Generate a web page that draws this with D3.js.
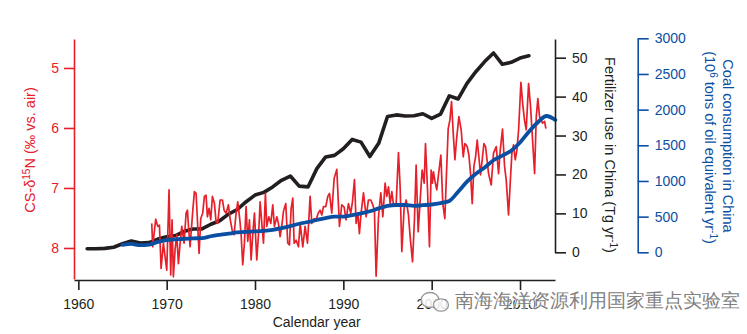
<!DOCTYPE html>
<html><head><meta charset="utf-8">
<script src="https://cdn.jsdelivr.net/npm/d3@7"></script>
<style>
body{margin:0;background:#fff}
svg{display:block}
text{font-family:"Liberation Sans",Arial,Helvetica,sans-serif}
</style>
</head><body>
<svg id="c" width="747" height="334"></svg>
<script>
// ---------- DATA ----------
const yearTicks = [1960, 1970, 1980, 1990, 2000, 2010];
const isoTicks = [5, 6, 7, 8];
const fertTicks = [0, 10, 20, 30, 40, 50];
const coalTicks = [0, 500, 1000, 1500, 2000, 2500, 3000];

// Coral skeleton δ15N: [year, value ‰]
const isotopeData = [
[1968.31,7.59],[1968.42,7.98],[1968.76,7.52],[1968.99,7.64],[1969.18,7.62],[1969.37,8.34],[1969.63,7.92],
[1970.01,8.37],[1970.27,7.03],[1970.46,8.45],[1970.61,7.53],[1970.76,8.48],[1970.95,8.03],[1971.14,7.78],
[1971.33,8.26],[1971.52,7.92],[1971.71,7.64],[1971.97,7.92],[1972.2,7.42],[1972.35,7.37],[1972.5,7.7],
[1972.65,7.98],[1972.95,7.39],[1973.14,7.06],[1973.33,7.09],[1973.48,7.53],[1973.67,8.09],[1973.86,7.51],
[1974.08,7.42],[1974.27,7.14],[1974.46,7.12],[1974.61,7.48],[1974.8,7.34],[1974.99,7.53],[1975.18,7.14],
[1975.41,7.26],[1975.59,7.56],[1975.78,7.59],[1976.05,7.2],[1976.31,7.2],[1976.5,7.37],[1976.73,7.42],
[1976.99,7.28],[1977.18,7.51],[1977.41,7.7],[1977.63,7.78],[1977.86,7.42],[1978.05,7.23],[1978.28,7.53],
[1978.43,7.78],[1978.61,8.28],[1978.8,7.92],[1978.99,7.31],[1979.18,7.89],[1979.37,7.53],[1979.56,8.2],
[1979.75,7.76],[1979.94,7.42],[1980.2,8.2],[1980.43,7.7],[1980.58,7.23],[1980.77,7.59],[1980.96,7.92],
[1981.18,7.09],[1981.33,7.64],[1981.56,7.48],[1981.79,7.59],[1982.01,7.28],[1982.2,7.64],[1982.47,7.48],
[1982.65,7.59],[1982.84,7.81],[1983.03,7.64],[1983.22,7.39],[1983.48,7.26],[1983.71,7.92],[1983.9,7.95],
[1984.09,7.34],[1984.28,7.17],[1984.43,7.92],[1984.66,7.87],[1984.92,7.98],[1985.11,7.59],[1985.41,7.98],
[1985.67,7.64],[1985.94,7.92],[1986.24,7.14],[1986.43,7.59],[1986.69,7.51],[1986.92,7.53],[1987.15,7.42],
[1987.37,7.37],[1987.56,7.45],[1987.75,7.31],[1988.01,7.31],[1988.24,7.14],[1988.43,7.09],[1988.69,7.42],
[1988.96,6.84],[1989.26,6.69],[1989.56,7.64],[1989.82,7.28],[1990.09,7.32],[1990.31,7.53],[1990.58,7.26],
[1990.84,7.42],[1991.03,7.23],[1991.26,6.86],[1991.45,7.59],[1991.64,7.42],[1991.82,7.76],[1992.01,7.42],
[1992.28,7.08],[1992.58,7.48],[1992.84,7.2],[1993.11,7.2],[1993.33,7.28],[1993.52,7.37],[1993.71,8.47],
[1993.98,7.48],[1994.24,7.08],[1994.47,7.48],[1994.73,6.92],[1994.92,7.14],[1995.11,6.98],[1995.3,7.26],
[1995.49,7.06],[1995.68,7.28],[1995.98,7.26],[1996.24,6.41],[1996.43,6.98],[1996.62,8.06],[1996.88,7.34],
[1997.11,7.2],[1997.37,7.45],[1997.56,7.81],[1997.83,8.23],[1998.05,7.53],[1998.24,6.62],[1998.47,7.73],
[1998.7,7.2],[1998.92,6.7],[1999.15,6.92],[1999.3,6.26],[1999.53,7.03],[1999.75,7.98],[1999.94,6.7],
[2000.09,6.92],[2000.2,6.73],[2000.39,6.9],[2000.58,7.03],[2000.77,6.78],[2001.04,6.45],[2001.26,7.26],
[2001.49,7.51],[2001.64,6.9],[2001.87,6.01],[2002.06,5.87],[2002.25,5.56],[2002.44,6.09],[2002.63,6.53],
[2002.81,6.2],[2003.08,5.81],[2003.34,6.03],[2003.57,6.48],[2003.76,6.26],[2004.02,6.31],[2004.21,6.45],
[2004.4,6.76],[2004.59,7.26],[2004.78,6.64],[2004.97,6.48],[2005.15,6.2],[2005.34,6.48],[2005.53,6.78],
[2005.72,6.53],[2005.91,6.26],[2006.1,6.31],[2006.44,6.76],[2006.74,6.95],[2007.0,6.42],[2007.31,6.31],
[2007.57,6.76],[2007.76,6.37],[2008.02,6.02],[2008.25,6.64],[2008.44,6.87],[2008.7,7.45],[2008.89,6.92],
[2009.08,6.42],[2009.27,6.28],[2009.46,6.53],[2009.65,6.37],[2009.84,6.03],[2010.1,5.24],[2010.33,5.64],
[2010.51,5.87],[2010.7,6.03],[2010.97,5.26],[2011.19,5.64],[2011.42,6.2],[2011.65,6.76],[2011.84,5.81],
[2012.02,5.51],[2012.21,5.81],[2012.4,5.87],[2012.55,5.92],[2012.78,5.89],[2012.93,6.01]
];

// Fertilizer use in China (Tg/yr)
const fertYears = [1961,1962,1963,1964,1965,1966,1967,1968,1969,1970,1971,1972,1973,1974,1975,1976,1977,1978,1979,1980,
1981,1982,1983,1984,1985,1986,1987,1988,1989,1990,1991,1992,1993,1994,1995,1996,1997,1998,1999,2000,
2001,2002,2003,2004,2005,2006,2007,2008,2009,2010,2011];
const fertValues = [0.9,0.9,1.0,1.3,2.2,2.9,2.4,2.5,3.4,4.0,4.3,5.4,6.0,6.0,7.2,8.1,9.8,11.0,13.0,14.7,
15.4,16.8,18.5,19.6,17.0,16.8,21.5,24.5,24.9,26.6,29.0,28.3,24.6,28.0,34.9,35.3,35.0,35.1,35.6,34.4,
35.5,40.2,39.4,43.4,46.4,49.0,51.2,48.3,48.8,49.9,50.5];

// Coal consumption in China (10^6 tons oil equivalent / yr)
const coalYears = [1965,1966,1967,1968,1969,1970,1971,1972,1973,1974,1975,1976,1977,1978,1979,1980,1981,1982,1983,1984,
1985,1986,1987,1988,1989,1990,1991,1992,1993,1994,1995,1996,1997,1998,1999,2000,2001,2002,2003,2004,
2005,2006,2007,2008,2009,2010,2011,2012,2013,2014];
const coalValues = [105,118,100,108,145,170,180,190,196,198,225,245,262,278,287,292,300,315,340,368,
400,425,453,480,499,500,520,545,575,615,650,663,663,650,660,670,690,720,850,990,
1100,1190,1290,1355,1425,1540,1690,1820,1911,1855];

const waterText = "南海海洋资源利用国家重点实验室";

// ---------- COLOURS ----------
const RED = "#e6202a", BLUE = "#0b4fa2", BLACK = "#231f20";

// ---------- SCALES ----------
const svg = d3.select("#c");
const x = d3.scaleLinear().domain([1959.51, 2013.96]).range([74, 555]);
const yIso = d3.scaleLinear().domain([4.517, 8.517]).range([39, 279]);
const yFert = d3.scaleLinear().domain([0, 54.8]).range([252.3, 39]);
const yCoal = d3.scaleLinear().domain([0, 3000]).range([252.3, 38.3]);

const fertData = fertYears.map((y, i) => [y, fertValues[i]]);
const coalData = coalYears.map((y, i) => [y, coalValues[i]]);

// ---------- LINES ----------
svg.append("path").datum(fertData)
  .attr("d", d3.line().x(d => x(d[0])).y(d => yFert(d[1])))
  .attr("fill", "none").attr("stroke", BLACK).attr("stroke-width", 3.6)
  .attr("stroke-linejoin", "round").attr("stroke-linecap", "round");

svg.append("path").datum(isotopeData)
  .attr("d", d3.line().x(d => x(d[0])).y(d => yIso(d[1])))
  .attr("fill", "none").attr("stroke", RED).attr("stroke-width", 1.7)
  .attr("stroke-linejoin", "round");

svg.append("path").datum(coalData)
  .attr("d", d3.line().curve(d3.curveMonotoneX).x(d => x(d[0])).y(d => yCoal(d[1])))
  .attr("fill", "none").attr("stroke", BLUE).attr("stroke-width", 3.8)
  .attr("stroke-linejoin", "round").attr("stroke-linecap", "round");

// ---------- AXES ----------
function styleAxis(g, color) {
  g.select(".domain").attr("stroke", color).attr("stroke-width", 1.6);
  g.selectAll(".tick line").attr("stroke", color).attr("stroke-width", 1.6);
  g.selectAll(".tick text").attr("fill", color).attr("font-size", 14)
    .attr("font-family", '"Liberation Sans", Arial, sans-serif');
}

const gx = svg.append("g").attr("transform", "translate(0,280)")
  .call(d3.axisBottom(x).tickValues(yearTicks).tickFormat(d3.format("d"))
    .tickSize(10).tickSizeOuter(0).tickPadding(9));
styleAxis(gx, BLACK);

const gl = svg.append("g").attr("transform", "translate(74,0)")
  .call(d3.axisLeft(yIso).tickValues(isoTicks).tickFormat(d3.format("d"))
    .tickSize(10).tickSizeOuter(0).tickPadding(5));
styleAxis(gl, RED);

const gf = svg.append("g").attr("transform", "translate(555,0)")
  .call(d3.axisRight(yFert).tickValues(fertTicks).tickFormat(d3.format("d"))
    .tickSize(11).tickSizeOuter(0).tickPadding(6));
styleAxis(gf, BLACK);

const gc = svg.append("g").attr("transform", "translate(637.7,0)")
  .call(d3.axisRight(yCoal).tickValues(coalTicks).tickFormat(d3.format("d"))
    .tickSize(11).tickSizeOuter(0).tickPadding(6));
styleAxis(gc, BLUE);

// ---------- TITLES ----------
svg.append("text").attr("x", 316.7).attr("y", 327).attr("text-anchor", "middle")
  .attr("font-size", 14).attr("fill", BLACK).text("Calendar year");

const lt = svg.append("text").attr("transform", "translate(30,150) rotate(-90)")
  .attr("text-anchor", "middle").attr("dy", "0.35em").attr("font-size", 14.5).attr("fill", RED);
lt.append("tspan").text("CS-δ");
lt.append("tspan").attr("baseline-shift", "super").attr("font-size", 10).text("15");
lt.append("tspan").text("N (‰ vs. air)");

const ft = svg.append("text").attr("transform", "translate(610,155) rotate(90)")
  .attr("text-anchor", "middle").attr("dy", "0.35em").attr("font-size", 14.5).attr("fill", BLACK);
ft.append("tspan").text("Fertilizer use in China (Tg yr");
ft.append("tspan").attr("baseline-shift", "super").attr("font-size", 10).text("-1");
ft.append("tspan").text(")");

svg.append("text").attr("transform", "translate(728,146) rotate(90)")
  .attr("text-anchor", "middle").attr("dy", "0.35em").attr("font-size", 14.5).attr("fill", BLUE)
  .text("Coal consumption in China");
const ct = svg.append("text").attr("transform", "translate(710,147.5) rotate(90)")
  .attr("text-anchor", "middle").attr("dy", "0.35em").attr("font-size", 14.5).attr("fill", BLUE);
ct.append("tspan").text("(10");
ct.append("tspan").attr("baseline-shift", "super").attr("font-size", 10).text("6");
ct.append("tspan").text(" tons of oil equivalent yr");
ct.append("tspan").attr("baseline-shift", "super").attr("font-size", 10).text("-1");
ct.append("tspan").text(")");

// ---------- WATERMARK ----------
const wm = svg.append("g");
wm.append("ellipse").attr("cx", 430).attr("cy", 300).attr("rx", 9).attr("ry", 7.5)
  .attr("fill", "#fff").attr("fill-opacity", 0.85).attr("stroke", "#9a9a9a").attr("stroke-width", 1.3);
wm.append("ellipse").attr("cx", 441).attr("cy", 305).attr("rx", 7.5).attr("ry", 6.2)
  .attr("fill", "#fff").attr("fill-opacity", 0.85).attr("stroke", "#9a9a9a").attr("stroke-width", 1.3);
wm.append("text").attr("x", 455).attr("y", 307).attr("font-size", 19)
  .attr("font-family", '"Noto Sans CJK SC", sans-serif').attr("fill", "#808080")
  .attr("stroke", "#fff").attr("stroke-width", 2).attr("stroke-opacity", 0.6).attr("paint-order", "stroke")
  .text(waterText);
</script>
</body></html>
